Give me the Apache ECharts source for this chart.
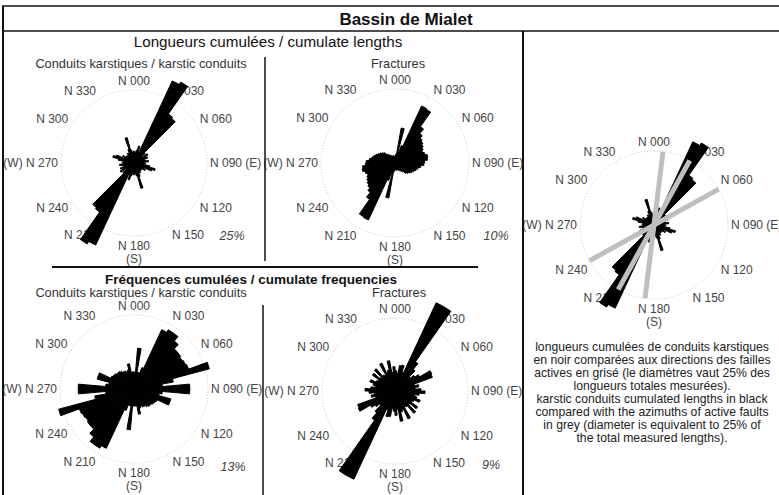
<!DOCTYPE html>
<html>
<head>
<meta charset="utf-8">
<title>Bassin de Mialet</title>
<script src="https://cdn.jsdelivr.net/npm/echarts@6/dist/echarts.min.js"></script>
<style>
html, body { margin: 0; padding: 0; background: #fff; }
#chart { width: 779px; height: 495px; }
</style>
</head>
<body>
<div id="chart"></div>
<script>
// 5 degree bins, N000 -> N175 (the other half of each rose is the mirror)
var binStarts = [0, 5, 10, 15, 20, 25, 30, 35, 40, 45, 50, 55, 60, 65, 70, 75, 80, 85,
                 90, 95, 100, 105, 110, 115, 120, 125, 130, 135, 140, 145, 150, 155, 160, 165, 170, 175];

// longueurs cumulees (%) - conduits karstiques, cercle = 25%
var conduitLengths = [4, 3.5, 4.5, 6, 4, 31, 32, 20.5, 20, 5, 3.5, 5.5, 4, 5, 3.5, 4, 5, 3.5,
                      4, 3.5, 5.5, 7.5, 6.5, 3.5, 4.5, 3.5, 3, 3.5, 3, 4, 3.5, 5, 9, 4.5, 3.5, 4];
// longueurs cumulees (%) - fractures, cercle = 10%
var fractureLengths = [1, 1.2, 4.8, 1.5, 2.5, 8.5, 8.4, 6, 5.2, 4.8, 4.6, 4.4, 4.2, 4, 4.2, 4.5, 4.4, 4,
                       3.9, 3.5, 3.2, 3, 2.8, 2.6, 2.4, 2.2, 2, 1.6, 1.4, 1.2, 1.1, 1, 1, 1, 0.9, 0.9];
// frequences cumulees (%) - conduits karstiques, cercle = 13%
var conduitFreq = [3, 7.2, 3, 3, 4, 11.5, 12, 12, 11, 10, 10, 9.8, 10, 10.2, 13.7, 7, 5, 9.8,
                   9.8, 5, 4.5, 6.7, 6.7, 4.5, 4.3, 4.2, 4, 4, 3.8, 3.5, 3.5, 3.2, 3.5, 4.5, 3, 3];
// frequences cumulees (%) - fractures, cercle = 9%
var fractureFreq = [2.5, 2.2, 3.2, 3.3, 2.5, 12, 12, 4.4, 3.5, 2.5, 3, 3.5, 5, 4.9, 2.5, 3, 2.5, 3.2,
                    3.7, 3, 2.5, 2.8, 3.3, 2.6, 2.4, 3.4, 2.4, 3.6, 2.4, 2.3, 3.8, 2.5, 2.7, 3.8, 2.3, 3];
// failles actives (azimuts, en grise)
var faultAzimuths = [7, 29, 61];
var faultLength = 25;

var circlePct = [25, 10, 13, 9, 25];
var pctLabels = ['25%', '10%', '13%', '9%'];

var font = 'Liberation Sans, Arial, sans-serif';

function mirror(arr) {
	return arr.concat(arr);
}
function dirLabel(v) {
	var s = 'N ' + ('00' + v).slice(-3);
	if (v === 90) s += ' (E)';
	if (v === 270) s = '(W) ' + s;
	if (v === 180) s += '\n(S)';
	return s;
}

var chart = echarts.init(document.getElementById('chart'), null, { renderer: 'svg' });

var roses = [
	{ center: [134, 163], r: 73, data: conduitLengths, pct: circlePct[0] },
	{ center: [395, 163], r: 74, data: fractureLengths, pct: circlePct[1] },
	{ center: [134, 389], r: 74, data: conduitFreq, pct: circlePct[2] },
	{ center: [395, 391], r: 73, data: fractureFreq, pct: circlePct[3] },
	{ center: [654, 225], r: 74, data: conduitLengths, pct: circlePct[4] }
];

var binLabels = [];
for (var b = 0; b < 2; b++) {
	binStarts.forEach(function (s) { binLabels.push(String(s + b * 180)); });
}

var polar = [], angleAxis = [], radiusAxis = [], series = [];
var k = 1.6;
roses.forEach(function (rose, i) {
	var pa = i * 2, pb = i * 2 + 1;
	// polar for the circle and the direction labels
	polar.push({ center: rose.center, radius: rose.r });
	angleAxis.push({
		polarIndex: pa, type: 'value', min: 0, max: 360, interval: 30,
		startAngle: 90, clockwise: true, z: 0,
		axisLine: { lineStyle: { color: '#b8b8b8', width: 0.8, type: [1, 2] } },
		axisTick: { show: false },
		splitLine: { show: false },
		axisLabel: {
			margin: 3, color: '#444', fontSize: 12, fontFamily: font, lineHeight: 13,
			formatter: dirLabel
		}
	});
	radiusAxis.push({
		polarIndex: pa, min: 0, max: rose.pct,
		axisLine: { show: false }, axisTick: { show: false },
		axisLabel: { show: false }, splitLine: { show: false }
	});
	// bigger polar for petals (so petals can leave the circle)
	polar.push({ center: rose.center, radius: rose.r * k });
	angleAxis.push({
		polarIndex: pb, type: 'category', data: binLabels,
		startAngle: 90, clockwise: true,
		axisLine: { show: false }, axisTick: { show: false },
		axisLabel: { show: false }, splitLine: { show: false }
	});
	radiusAxis.push({
		polarIndex: pb, min: 0, max: rose.pct * k,
		axisLine: { show: false }, axisTick: { show: false },
		axisLabel: { show: false }, splitLine: { show: false }
	});
	series.push({
		type: 'bar', coordinateSystem: 'polar', polarIndex: pb,
		data: mirror(rose.data),
		barCategoryGap: '0%', barWidth: '100%',
		itemStyle: { color: '#000', borderColor: '#000', borderWidth: 1 },
		silent: true, z: 2
	});
});

// active faults in grey on the last rose
faultAzimuths.forEach(function (az) {
	series.push({
		type: 'line', coordinateSystem: 'polar', polarIndex: 8,
		data: [[faultLength, az], [faultLength, az + 180]],
		showSymbol: false, silent: true, z: 3,
		lineStyle: { color: '#bfbfbf', width: 5, cap: 'butt' }
	});
});

function txt(x, y, text, size, opts) {
	opts = opts || {};
	return {
		type: 'text', x: x, y: y, silent: true, z: 10,
		style: {
			text: text,
			fill: opts.fill || '#222',
			font: (opts.style || 'normal') + ' ' + (opts.weight || 'normal') + ' ' + size + 'px ' + font,
			align: 'center', verticalAlign: opts.va || 'middle',
			textAlign: 'center', textVerticalAlign: opts.va || 'middle',
			lineHeight: opts.lh || size + 1
		}
	};
}
function ln(x1, y1, x2, y2, w) {
	return { type: 'line', silent: true, z: 10,
		shape: { x1: x1, y1: y1, x2: x2, y2: y2 },
		style: { stroke: '#111', lineWidth: w || 1.5 } };
}

var note = [
	'longueurs cumulées de conduits karstiques',
	'en noir comparées aux directions des failles',
	'actives en grisé (le diamètres vaut 25% des',
	'longueurs totales mesurées).',
	'karstic conduits cumulated lengths in black',
	'compared with the azimuths of active faults',
	'in grey (diameter is equivalent to 25% of',
	'the total measured lengths).'
].join('\n');

var graphics = [
	ln(2, 6, 779, 6, 1.5),
	ln(3, 6, 3, 495, 2),
	ln(2, 31, 779, 31, 1.5),
	ln(523, 31, 523, 495, 2),
	ln(265, 57, 265, 261, 1.5),
	ln(52, 267, 478, 267, 2),
	ln(263, 305, 263, 495, 1.5),
	txt(406, 19, 'Bassin de Mialet', 17, { weight: 'bold', fill: '#111' }),
	txt(268, 41, 'Longueurs cumulées / cumulate lengths', 15.2, { fill: '#111' }),
	txt(141, 63, 'Conduits karstiques / karstic conduits', 12.8, { fill: '#333' }),
	txt(398, 63, 'Fractures', 12.8, { fill: '#333' }),
	txt(251, 279, 'Fréquences cumulées / cumulate frequencies', 13.5, { weight: 'bold', fill: '#111', lh: 13.5 }),
	txt(141, 292.5, 'Conduits karstiques / karstic conduits', 12.8, { fill: '#333', lh: 12.8 }),
	txt(399, 292.5, 'Fractures', 12.8, { fill: '#333', lh: 12.8 }),
	txt(232, 236, pctLabels[0], 12.5, { style: 'italic', fill: '#444' }),
	txt(496, 236, pctLabels[1], 12.5, { style: 'italic', fill: '#444' }),
	txt(233, 467, pctLabels[2], 12.5, { style: 'italic', fill: '#444' }),
	txt(491, 465, pctLabels[3], 12.5, { style: 'italic', fill: '#444' }),
	txt(652, 341, note, 12.2, { va: 'top', lh: 12.9, fill: '#222' })
];

chart.setOption({
	backgroundColor: '#fff',
	animation: false,
	polar: polar,
	angleAxis: angleAxis,
	radiusAxis: radiusAxis,
	graphic: { elements: graphics },
	series: series
});
</script>
</body>
</html>
